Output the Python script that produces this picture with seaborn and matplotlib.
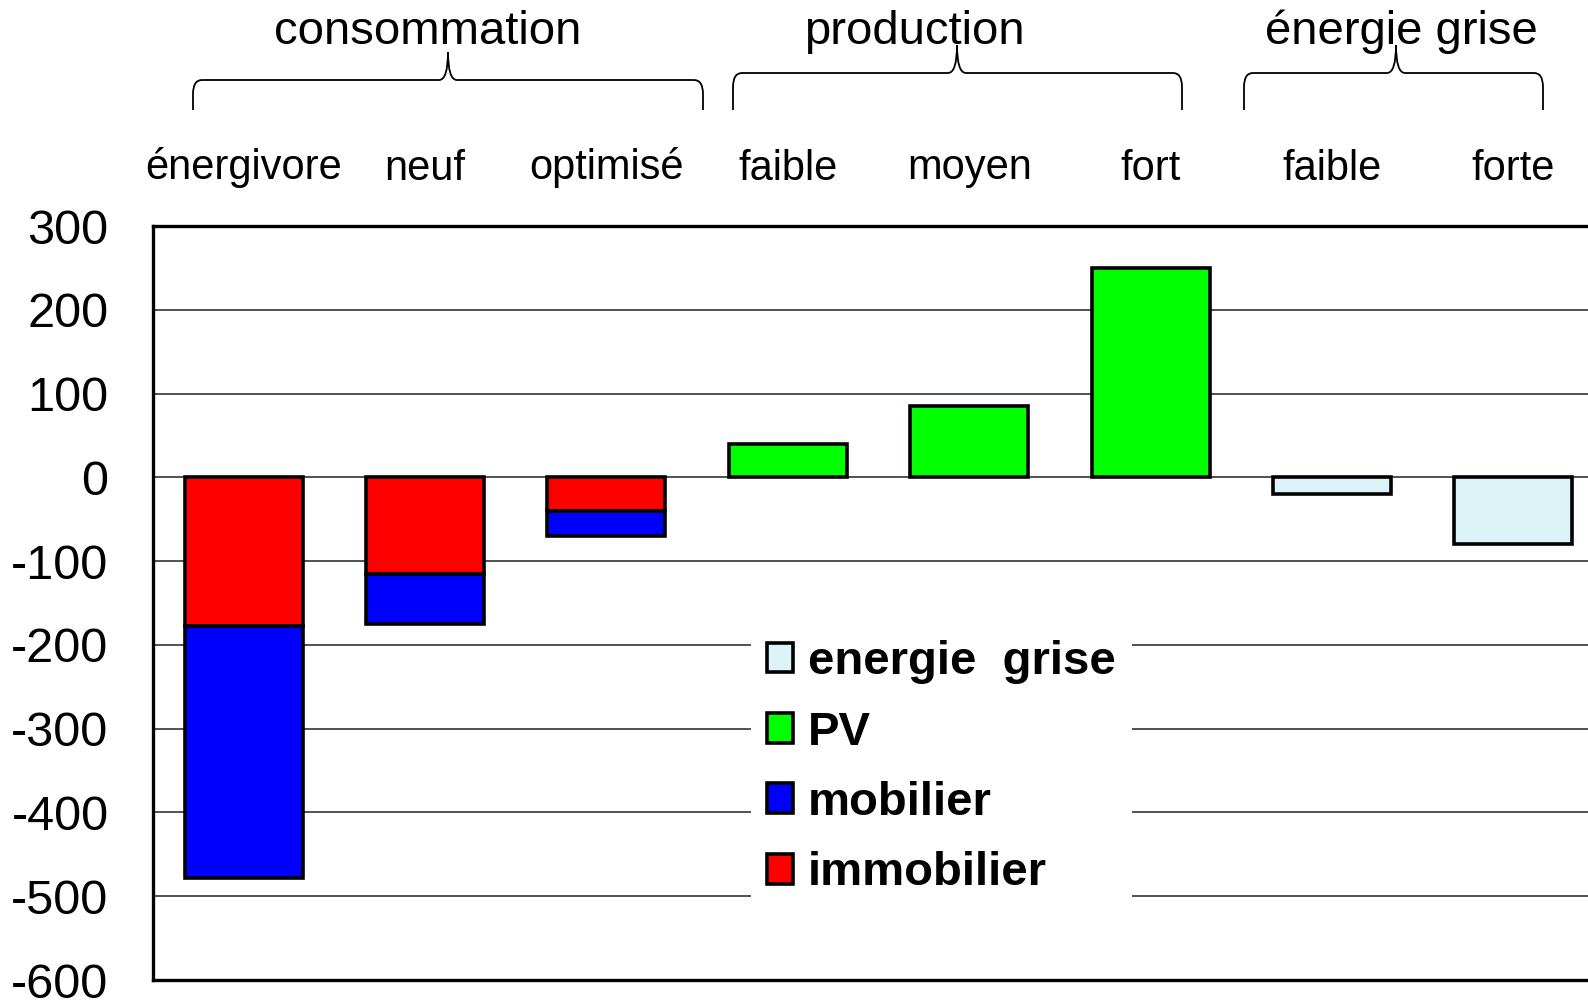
import matplotlib
matplotlib.use('Agg')
import pandas as pd
import seaborn as sns
import matplotlib.pyplot as plt
from matplotlib.path import Path
from matplotlib.patches import PathPatch

# categories (unique keys) and the labels shown on top of the axis
KEYS = ['energivore', 'neuf', 'optimise', 'pv_faible', 'pv_moyen',
        'pv_fort', 'eg_faible', 'eg_forte']
TICK_LABELS = ['énergivore', 'neuf', 'optimisé', 'faible', 'moyen',
               'fort', 'faible', 'forte']
GROUPS = ['consommation', 'production', 'énergie grise']

# series values
IMMOBILIER = [-178, -115, -40]
MOBILIER = [-300, -60, -30]
PV = [40, 85, 250]
ENERGIE_GRISE = [-20, -80]

RED = '#ff0000'
BLUE = '#0000ff'
GREEN = '#00ff00'
PALE = '#dcf4f8'


def draw_brace(ax, x0, x1, xm, y_h, y_e, y_t):
    '''
    Draws a curly brace in pixel coordinates of the overlay axes.
    '''
    r = 9
    verts = [(x0, y_e), (x0, y_h + 14), (x0, y_h), (x0 + r, y_h),
             (xm - r, y_h), (xm, y_h), (xm, y_t),
             (xm, y_h), (xm + r, y_h), (x1 - r, y_h),
             (x1, y_h), (x1, y_h + 14), (x1, y_e)]
    codes = [Path.MOVETO, Path.LINETO, Path.CURVE3, Path.CURVE3,
             Path.LINETO, Path.CURVE3, Path.CURVE3,
             Path.CURVE3, Path.CURVE3, Path.LINETO,
             Path.CURVE3, Path.CURVE3, Path.LINETO]
    ax.add_patch(PathPatch(Path(verts, codes), facecolor='none',
                           edgecolor='black', linewidth=1.3))


def main():
    sns.set_style('white')
    plt.rcParams['font.family'] = ['Liberation Sans', 'DejaVu Sans']
    plt.rcParams['axes.unicode_minus'] = False
    plt.rcParams['text.color'] = 'black'
    plt.rcParams['xtick.color'] = 'black'
    plt.rcParams['ytick.color'] = 'black'

    fig = plt.figure(figsize=(15.88, 10), dpi=100)
    ax = fig.add_axes([153 / 1588, 0.02, 1451 / 1588, 0.754])

    common = dict(order=KEYS, edgecolor='black', linewidth=2.6, width=0.65,
                  saturation=1, errorbar=None, ax=ax)
    imm = pd.DataFrame({'cat': KEYS[:3], 'val': IMMOBILIER})
    mob = pd.DataFrame({'cat': KEYS[:3], 'val': MOBILIER})
    pv = pd.DataFrame({'cat': KEYS[3:6], 'val': PV})
    eg = pd.DataFrame({'cat': KEYS[6:], 'val': ENERGIE_GRISE})
    sns.barplot(data=imm, x='cat', y='val', color=RED, label='immobilier',
                **common)
    sns.barplot(data=mob, x='cat', y='val', color=BLUE, label='mobilier',
                bottom=IMMOBILIER, **common)
    sns.barplot(data=pv, x='cat', y='val', color=GREEN, label='PV', **common)
    sns.barplot(data=eg, x='cat', y='val', color=PALE,
                label='energie  grise', **common)

    ax.set_xlim(-0.5, 7.5)
    ax.set_ylim(-600, 300)
    ax.set_yticks(range(-600, 301, 100))
    ax.yaxis.grid(True, color='#333333', linewidth=1.2)
    ax.xaxis.grid(False)
    ax.set_axisbelow(True)
    ax.xaxis.tick_top()
    ax.set_xticks(range(len(KEYS)))
    ax.set_xticklabels(TICK_LABELS)
    ax.tick_params(axis='x', length=0, pad=27, labelsize=30,
                   labelcolor='black')
    ax.tick_params(axis='y', length=0, pad=32, labelsize=35,
                   labelcolor='black')
    ax.set_xlabel('')
    ax.set_ylabel('')
    for side in ['top', 'left', 'bottom', 'right']:
        ax.spines[side].set_visible(True)
        ax.spines[side].set_color('black')
        ax.spines[side].set_linewidth(2.4)

    handles, labels = ax.get_legend_handles_labels()
    leg = ax.legend(handles[::-1], labels[::-1], loc='upper left',
                    bbox_to_anchor=(0.458, 0.40),
                    bbox_transform=fig.transFigure,
                    prop={'weight': 'bold', 'size': 34}, frameon=True,
                    facecolor='white', edgecolor='none', framealpha=1,
                    fancybox=False, handlelength=0.55, handleheight=0.6,
                    handletextpad=0.3, labelspacing=0.56, borderpad=0.35)
    for t in leg.get_texts():
        t.set_color('black')

    # overlay for the group labels and braces
    ov = fig.add_axes([0, 0, 1, 1], zorder=5)
    ov.set_xlim(0, 1588)
    ov.set_ylim(1000, 0)
    ov.axis('off')
    ov.patch.set_alpha(0)
    draw_brace(ov, 193, 703, 448, 80, 110, 52)
    draw_brace(ov, 733, 1182, 957, 73, 110, 45)
    draw_brace(ov, 1244, 1543, 1396, 73, 110, 45)
    for name, x in zip(GROUPS, [428, 914, 1401]):
        ov.text(x, 32, name, ha='center', va='center', fontsize=34,
                color='black')

    plt.savefig('out.png', dpi=100)


if __name__ == '__main__':
    main()
